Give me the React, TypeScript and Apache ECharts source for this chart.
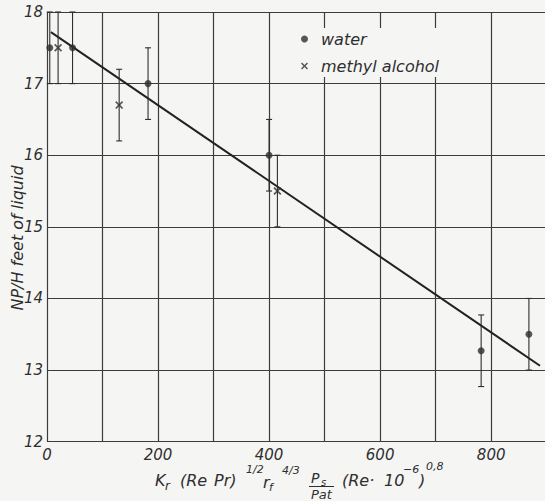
import React, { useEffect, useRef } from "react";
import * as echarts from "echarts";

const waterX = [5, 46, 182, 400, 782, 868];
const waterY = [17.5, 17.5, 17.0, 16.0, 13.27, 13.5];
const waterLo = [17.0, 17.0, 16.5, 15.5, 12.77, 13.0];
const waterHi = [18.0, 18.0, 17.5, 16.5, 13.77, 14.0];

const methylX = [20, 130, 415];
const methylY = [17.5, 16.7, 15.5];
const methylLo = [17.0, 16.2, 15.0];
const methylHi = [18.0, 17.2, 16.0];

const fitX = [7, 888];
const fitY = [17.72, 13.06];

const xTicks = [0, 200, 400, 600, 800];
const yTicks = [12, 13, 14, 15, 16, 17, 18];

const seriesNames = ["water", "methyl alcohol"];
const yTitle = "NP/H feet of liquid";

const CROSS = "path://M0,1.5L1.5,0L5,3.5L8.5,0L10,1.5L6.5,5L10,8.5L8.5,10L5,6.5L1.5,10L0,8.5L3.5,5Z";
const INK = "#2e2e2e";
const BG = "#f5f5f4";
const FONT = "DejaVu Sans";

function errRender(params: any, api: any) {
  const x = api.value(0);
  const lo = api.coord([x, api.value(1)]);
  const hi = api.coord([x, api.value(2)]);
  const w = 3;
  const st = { stroke: INK, lineWidth: 1.1 };
  return {
    type: "group",
    children: [
      { type: "line", shape: { x1: lo[0], y1: lo[1], x2: hi[0], y2: hi[1] }, style: st },
      { type: "line", shape: { x1: lo[0] - w, y1: lo[1], x2: lo[0] + w, y2: lo[1] }, style: st },
      { type: "line", shape: { x1: hi[0] - w, y1: hi[1], x2: hi[0] + w, y2: hi[1] }, style: st },
    ],
  };
}

function txt(text: string, x: number, y: number, size: number, extra: any = {}) {
  return {
    type: "text",
    x,
    y,
    style: {
      text,
      fill: INK,
      fontSize: size,
      fontStyle: "italic",
      fontFamily: FONT,
      align: "left",
      verticalAlign: "middle",
      ...extra,
    },
  };
}

export default function App() {
  const ref = useRef<HTMLDivElement>(null);
  useEffect(() => {
    if (!ref.current) return;
    const chart = echarts.init(ref.current, null, { renderer: "svg" });
    const labelStyle = { color: INK, fontSize: 15, fontStyle: "italic", fontFamily: FONT };
    chart.setOption({
      animation: false,
      backgroundColor: BG,
      grid: { left: 47, top: 12, right: 0, bottom: 59.3, containLabel: false },
      xAxis: {
        type: "value",
        min: 0,
        max: 897,
        interval: 100,
        axisLine: { show: false },
        axisTick: { show: false },
        splitLine: { show: true, showMaxLine: false, lineStyle: { color: "#3c3c3c", width: 1.2 } },
        axisLabel: {
          ...labelStyle,
          margin: 6,
          showMaxLabel: false,
          formatter: (v: number) => (xTicks.indexOf(v) >= 0 ? String(v) : ""),
        },
      },
      yAxis: {
        type: "value",
        min: yTicks[0],
        max: yTicks[yTicks.length - 1],
        interval: 1,
        axisLine: { show: false },
        axisTick: { show: false },
        splitLine: { show: true, lineStyle: { color: "#3c3c3c", width: 1.2 } },
        axisLabel: { ...labelStyle, margin: 4 },
      },
      legend: {
        orient: "vertical",
        left: 297,
        top: 28,
        itemWidth: 7,
        itemHeight: 7,
        itemGap: 11,
        padding: [3, 6, 3, 4],
        backgroundColor: BG,
        data: [
          { name: seriesNames[0], icon: "circle" },
          { name: seriesNames[1], icon: CROSS },
        ],
        textStyle: { color: INK, fontSize: 16, fontStyle: "italic", fontFamily: FONT, padding: [0, 0, 0, 8] },
      },
      graphic: [
        {
          type: "text",
          x: 17,
          y: 238,
          rotation: Math.PI / 2,
          style: {
            text: yTitle,
            fill: INK,
            fontSize: 16,
            fontStyle: "italic",
            fontFamily: FONT,
            align: "center",
            verticalAlign: "middle",
          },
        },
        txt("K", 155, 480, 16),
        txt("r", 165, 486, 12),
        txt("(Re", 180, 480, 16),
        txt("Pr)", 214, 480, 16),
        txt("1/2", 246, 469, 11),
        txt("r", 263, 482, 16),
        txt("f", 269, 487, 11),
        txt("4/3", 282, 470, 11),
        txt("P", 311, 478, 14),
        txt("s", 321, 482, 10),
        { type: "line", shape: { x1: 309, y1: 486.5, x2: 334, y2: 486.5 }, style: { stroke: INK, lineWidth: 1 } },
        txt("Pat", 311, 494, 13),
        txt("(Re·", 342, 480, 16),
        txt("10", 384, 480, 16),
        txt("−6", 403, 469, 11),
        txt(")", 419, 480, 16),
        txt("0,8", 426, 466, 11),
      ],
      series: [
        {
          type: "line",
          data: fitX.map((x, i) => [x, fitY[i]]),
          symbol: "none",
          lineStyle: { color: "#222", width: 2 },
          silent: true,
          z: 3,
        },
        {
          type: "custom",
          renderItem: errRender,
          data: waterX.map((x, i) => [x, waterLo[i], waterHi[i]]),
          encode: { x: 0, y: [1, 2] },
          z: 4,
        },
        {
          type: "custom",
          renderItem: errRender,
          data: methylX.map((x, i) => [x, methylLo[i], methylHi[i]]),
          encode: { x: 0, y: [1, 2] },
          z: 4,
        },
        {
          name: seriesNames[0],
          type: "scatter",
          symbol: "circle",
          symbolSize: 7,
          itemStyle: { color: INK },
          data: waterX.map((x, i) => [x, waterY[i]]),
          z: 5,
        },
        {
          name: seriesNames[1],
          type: "scatter",
          symbol: CROSS,
          symbolSize: 8,
          itemStyle: { color: INK },
          data: methylX.map((x, i) => [x, methylY[i]]),
          z: 5,
        },
      ],
    });
    return () => chart.dispose();
  }, []);
  return (
    <div
      ref={ref}
      style={{ position: "absolute", left: 0, top: 0, width: 545, height: 501 }}
    />
  );
}
